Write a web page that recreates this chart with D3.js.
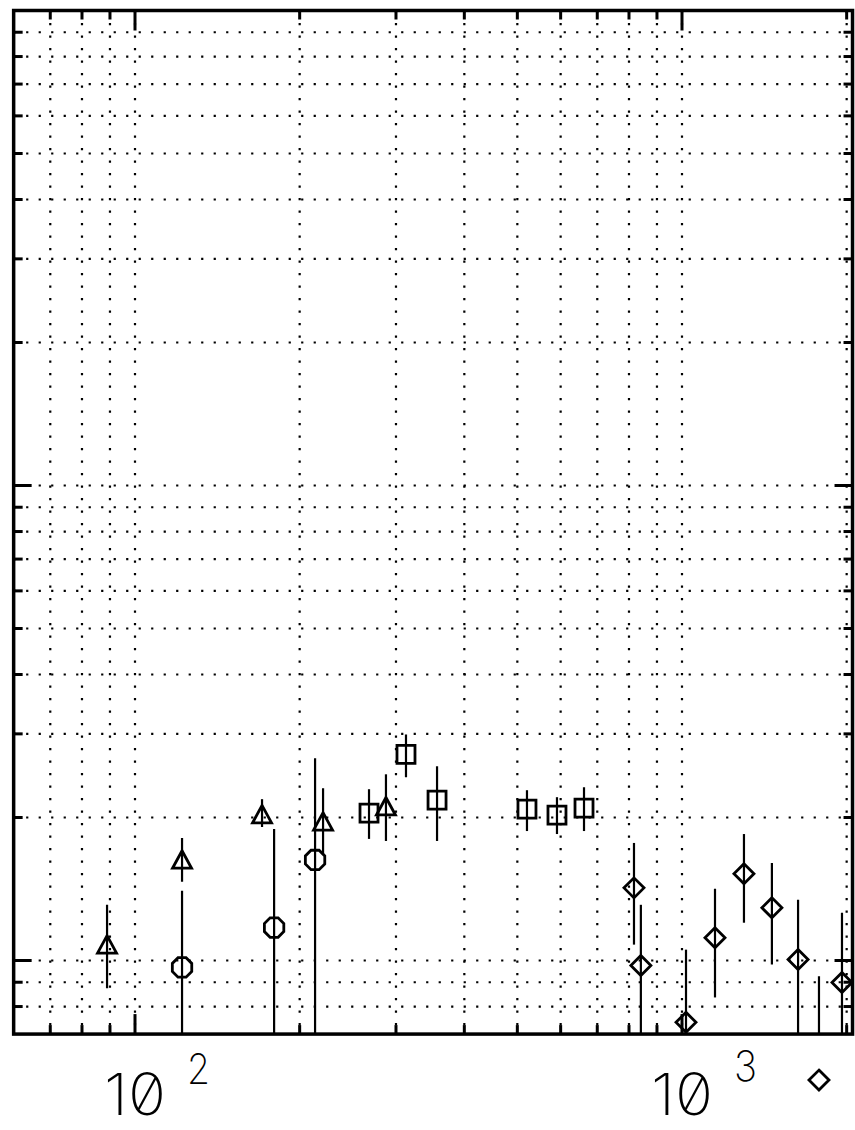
<!DOCTYPE html>
<html>
<head>
<meta charset="utf-8">
<script src="https://cdn.jsdelivr.net/npm/d3@7"></script>
<style>
  html, body { margin: 0; padding: 0; background: #fff; }
  svg { display: block; }
  .lbl { font-family: Inter, "DejaVu Sans", sans-serif; font-weight: 250;
         font-feature-settings: "zero" 1; font-variant-numeric: slashed-zero; fill: #000; }
</style>
</head>
<body>
<svg id="chart" width="855" height="1130"></svg>
<script>
// ---- data ----
const xDomain = [60, 2050];
const yDomain = [0.7, 100];
const xTickLabels = [{v: 100, base: "10", exp: "2"}, {v: 1000, base: "10", exp: "3"}];

const triX  = [88.9, 121.9, 170.7, 220.7, 287.6];
const triY  = [1.08, 1.63, 2.03, 1.96, 2.11];
const triLo = [0.874, 1.464, 1.91, 1.668, 1.785];
const triHi = [1.31, 1.811, 2.186, 2.305, 2.466];

const circX  = [121.9, 179.6, 213.4];
const circY  = [0.967, 1.173, 1.628];
const circLo = [0.4, 0.4, 0.4];
const circHi = [1.402, 1.891, 2.665];

const sqX  = [267.8, 312.9, 356.6, 520.7, 590.8, 662];
const sqY  = [2.043, 2.716, 2.175, 2.083, 2.024, 2.093];
const sqLo = [1.803, 2.431, 1.785, 1.873, 1.846, 1.873];
const sqHi = [2.294, 2.991, 2.564, 2.283, 2.207, 2.316];

const diaX  = [817, 841, 1017, 1149, 1298, 1460, 1630, 1780, 1961];
const diaY  = [1.422, 0.976, 0.741, 1.117, 1.522, 1.291, 1.005, 0.560, 0.899];
const diaLo = [1.08, 0.4, 0.4, 0.836, 1.201, 0.981, 0.4, 0.4, 0.4];
const diaHi = [1.768, 1.31, 1.054, 1.416, 1.846, 1.605, 1.342, 0.926, 1.261];

// ---- scales ----
const x = d3.scaleLog().domain([100, 1000]).range([135, 682]);
const y = d3.scaleLog().domain([1, 10]).range([960.5, 485.5]);
const X0 = x(xDomain[0]), X1 = x(xDomain[1]);
const Y0 = y(yDomain[0]), Y1 = y(yDomain[1]);

const svg = d3.select("#chart");
svg.append("rect").attr("width", 855).attr("height", 1130).attr("fill", "#fff");

// tick values
const xTicks = [];
[10, 100, 1000].forEach(d => { for (let k = 1; k <= 9; k++) { const v = d * k; if (v > xDomain[0] && v < xDomain[1]) xTicks.push(v); } });
const yTicks = [];
[0.1, 1, 10].forEach(d => { for (let k = 1; k <= 9; k++) { const v = +(d * k).toPrecision(3); if (v > yDomain[0] && v < yDomain[1]) yTicks.push(v); } });
const isMajor = v => Math.abs(Math.log10(v) - Math.round(Math.log10(v))) < 1e-9;

// grid
const grid = svg.append("g").attr("stroke", "#000").attr("stroke-width", 2.2).attr("stroke-dasharray", "2.2 10.3");
grid.selectAll("line.gx").data(xTicks).join("line")
  .attr("x1", d => x(d)).attr("x2", d => x(d)).attr("y1", Y1).attr("y2", Y0);
grid.selectAll("line.gy").data(yTicks).join("line")
  .attr("x1", X0).attr("x2", X1).attr("y1", d => y(d)).attr("y2", d => y(d));

// ticks (inward, on all four sides)
const tk = svg.append("g").attr("stroke", "#000").attr("stroke-width", 3);
xTicks.forEach(v => {
  const L = isMajor(v) ? 20 : 9;
  tk.append("line").attr("x1", x(v)).attr("x2", x(v)).attr("y1", Y0).attr("y2", Y0 - L);
  tk.append("line").attr("x1", x(v)).attr("x2", x(v)).attr("y1", Y1).attr("y2", Y1 + L);
});
yTicks.forEach(v => {
  const L = isMajor(v) ? 18 : 9;
  tk.append("line").attr("y1", y(v)).attr("y2", y(v)).attr("x1", X0).attr("x2", X0 + L);
  tk.append("line").attr("y1", y(v)).attr("y2", y(v)).attr("x1", X1).attr("x2", X1 - L);
});

// frame
svg.append("rect").attr("x", X0).attr("y", Y1).attr("width", X1 - X0).attr("height", Y0 - Y1)
  .attr("fill", "none").attr("stroke", "#000").attr("stroke-width", 3.5);

// clip for error bars
svg.append("clipPath").attr("id", "plotclip").append("rect")
  .attr("x", X0).attr("y", Y1).attr("width", X1 - X0).attr("height", Y0 - Y1);

function series(xs, ys, lo, hi, shape) {
  const data = xs.map((v, i) => ({x: v, y: ys[i], lo: lo[i], hi: hi[i]}));
  svg.append("g").attr("clip-path", "url(#plotclip)")
    .selectAll("line").data(data).join("line")
    .attr("x1", d => x(d.x)).attr("x2", d => x(d.x))
    .attr("y1", d => y(d.hi)).attr("y2", d => y(d.lo))
    .attr("stroke", "#000").attr("stroke-width", 2.2);
  svg.append("g").selectAll("path").data(data).join("path")
    .attr("transform", d => `translate(${x(d.x)},${y(d.y)})`)
    .attr("d", shape)
    .attr("fill", "none").attr("stroke", "#000").attr("stroke-width", 2.8)
    .attr("stroke-linejoin", "miter");
}
const triPath = "M0,-9 L9.5,8.5 L-9.5,8.5 Z";
const sqPath = "M-9,-9 H9 V9 H-9 Z";
const dPath = "M0,-10 L10,0 L0,10 L-10,0 Z";
const oct = d3.range(8).map(i => { const a = Math.PI / 8 + i * Math.PI / 4; return [10.5 * Math.cos(a), 10.5 * Math.sin(a)]; });
const octPath = d3.line()(oct) + "Z";

series(triX, triY, triLo, triHi, triPath);
series(circX, circY, circLo, circHi, octPath);
series(sqX, sqY, sqLo, sqHi, sqPath);
series(diaX, diaY, diaLo, diaHi, dPath);

// x tick labels  (10^2, 10^3)
xTickLabels.forEach(t => {
  const cx = x(t.v);
  svg.append("text").attr("class", "lbl").attr("x", cx - 31).attr("y", 1115)
    .attr("font-size", 58).attr("textLength", 62).attr("lengthAdjust", "spacingAndGlyphs").text(t.base);
  svg.append("text").attr("class", "lbl").attr("x", cx + 52).attr("y", t.v === 100 ? 1084 : 1081)
    .attr("font-size", 42).attr("textLength", 23).attr("lengthAdjust", "spacingAndGlyphs").text(t.exp);
});
</script>
</body>
</html>
